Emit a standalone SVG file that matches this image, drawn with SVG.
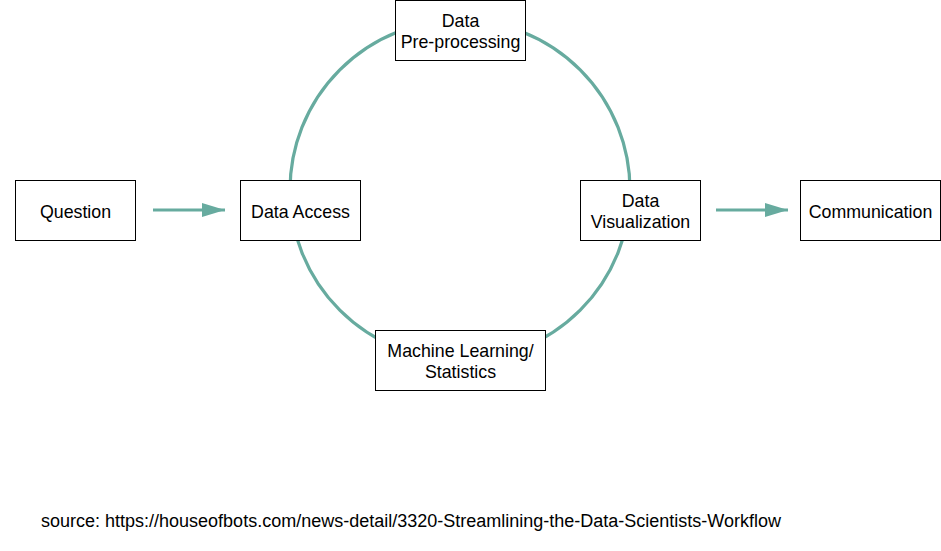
<svg xmlns="http://www.w3.org/2000/svg" width="941" height="551" viewBox="0 0 941 551">
<defs>
<style>
.box{fill:#ffffff;stroke:#000000;stroke-width:1}
.t{font-family:"Liberation Sans",Arial,Helvetica,sans-serif;font-size:17.8px;fill:#000000;text-anchor:middle}
.c{fill:none;stroke:#67AB9F;stroke-width:3.2}
.src{font-family:"Liberation Sans",Arial,Helvetica,sans-serif;font-size:18px;fill:#000000}
</style>
<marker id="ah" markerUnits="userSpaceOnUse" markerWidth="24" markerHeight="16" refX="23" refY="7" orient="auto">
<path d="M0,0 L23,7 L0,14 Z" fill="#67AB9F"/>
</marker>
</defs>
<rect width="941" height="551" fill="#ffffff"/>
<g id="connectors">
<circle class="c" cx="460" cy="190" r="170"/>
<line class="c" x1="153" y1="210" x2="225" y2="210" marker-end="url(#ah)"/>
<line class="c" x1="716" y1="210" x2="788" y2="210" marker-end="url(#ah)"/>
</g>
<g id="question">
<rect class="box" x="15.5" y="180.5" width="120" height="60"/>
<text class="t" x="75.5" y="217.5">Question</text>
</g>
<g id="data-access">
<rect class="box" x="240.5" y="180.5" width="120" height="60"/>
<text class="t" x="300.5" y="217.5">Data Access</text>
</g>
<g id="data-preprocessing">
<rect class="box" x="395.5" y="0.5" width="130" height="60"/>
<text class="t" x="460.5" y="27">Data</text>
<text class="t" x="460.5" y="48">Pre-processing</text>
</g>
<g id="data-visualization">
<rect class="box" x="580.5" y="180.5" width="120" height="60"/>
<text class="t" x="640.5" y="207">Data</text>
<text class="t" x="640.5" y="228">Visualization</text>
</g>
<g id="communication">
<rect class="box" x="800.5" y="180.5" width="140" height="60"/>
<text class="t" x="870.5" y="217.5">Communication</text>
</g>
<g id="ml-statistics">
<rect class="box" x="375.5" y="330.5" width="170" height="60"/>
<text class="t" x="460.5" y="357">Machine Learning/</text>
<text class="t" x="460.5" y="378">Statistics</text>
</g>
<g id="source">
<text class="src" x="41" y="527">source: https://houseofbots.com/news-detail/3320-Streamlining-the-Data-Scientists-Workflow</text>
</g>
</svg>
